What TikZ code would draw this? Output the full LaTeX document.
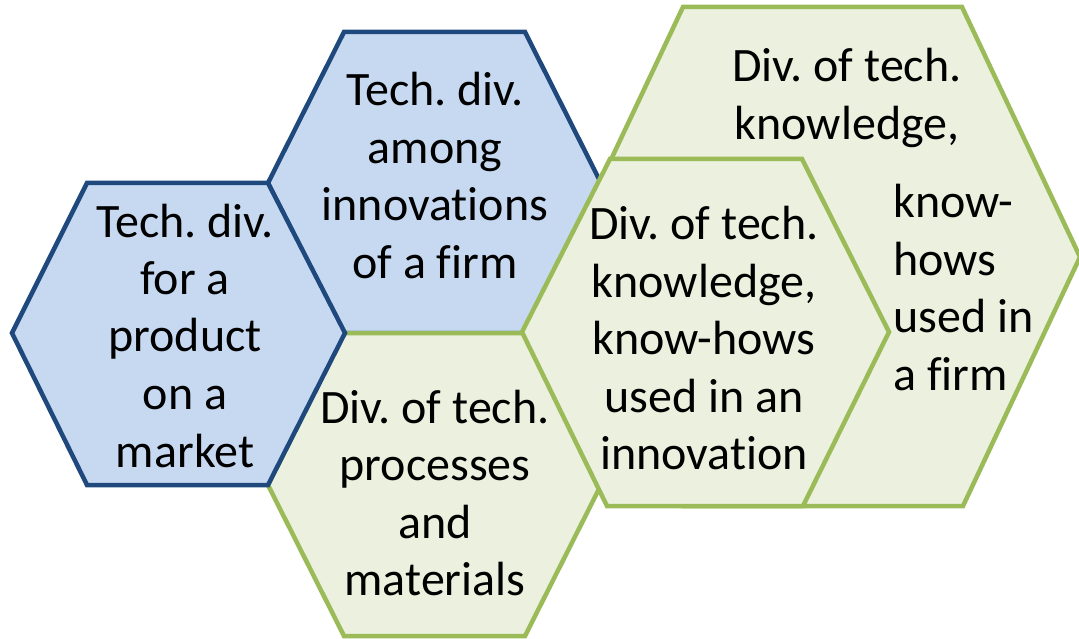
\documentclass[tikz,border=0pt]{standalone}
\usepackage{fontspec}
\setmainfont{Carlito}[Ligatures=CommonOff]
\frenchspacing
\definecolor{bfill}{HTML}{C6D9F1}
\definecolor{bline}{HTML}{1F497D}
\definecolor{gfill}{HTML}{EBF1DE}
\definecolor{gline}{HTML}{9BBB59}
\tikzset{
  bluehex/.style={fill=bfill, draw=bline, line width=4.5pt, line join=miter},
  greenhex/.style={fill=gfill, draw=gline, line width=4.5pt, line join=miter},
  hextext/.style={anchor=base, inner sep=0pt, font=\fontsize{48}{57.5}\selectfont},
  hextextl/.style={anchor=base west, inner sep=0pt, font=\fontsize{48}{57.5}\selectfont}
}
\newcommand{\ctext}[1]{\parbox[t]{300pt}{\centering #1}}
\newcommand{\ltext}[1]{\parbox[t]{170pt}{\raggedright #1}}
\begin{document}
\begin{tikzpicture}[x=1pt,y=-1pt]
\useasboundingbox (0,0) rectangle (1079,639);
% top middle (blue)
\draw[bluehex] (268,183) -- (344,32) -- (525,32) -- (601,183) -- (525,333) -- (344,333) -- cycle;
% bottom middle (green)
\draw[greenhex] (268,485) -- (344,333) -- (525,333) -- (601,485) -- (525,636) -- (344,636) -- cycle;
% left (blue)
\draw[bluehex] (12,333) -- (87,183) -- (268,183) -- (345,333) -- (268,485) -- (87,485) -- cycle;
% large right (green)
\draw[greenhex] (565,257) -- (683,7) -- (962,7) -- (1080,257) -- (963,506) -- (683,506) -- cycle;
% middle right (green)
\draw[greenhex] (522,332) -- (610,159) -- (802,159) -- (889,332) -- (803,506) -- (607,506) -- cycle;

\node[hextext] (tleft) at (185,237) {\ctext{Tech. div.\\for a\\product\\on a\\market}};
\node[hextext] (ttop) at (435,106) {\ctext{Tech. div.\\among\\innovations\\of a firm}};
\node[hextext] (tbot) at (435,423) {\ctext{Div. of tech.\\processes\\and\\materials}};
\node[hextext] (tmid) at (704,240) {\ctext{Div. of tech.\\knowledge,\\know-hows\\used in an\\innovation}};
\node[hextext] (tbig) at (847,82) {\ctext{Div. of tech.\\knowledge,}};
\node[hextextl] (tbigr) at (893,218) {\ltext{know-\\hows\\used in\\a firm}};
\end{tikzpicture}
\end{document}
